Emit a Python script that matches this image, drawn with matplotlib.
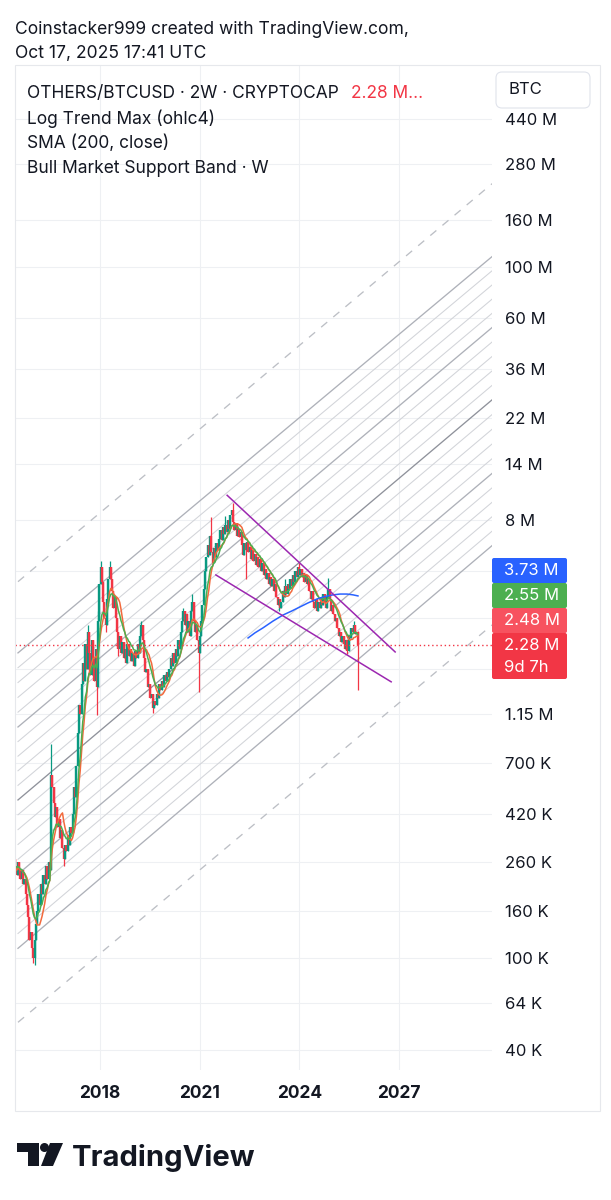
import numpy as np
import pandas as pd
import matplotlib
matplotlib.use("Agg")
import matplotlib.pyplot as plt
from matplotlib.patches import Rectangle, Circle, Polygon, FancyBboxPatch
from matplotlib.ticker import NullLocator

plt.rcParams['font.family'] = ['Inter', 'DejaVu Sans']

W, H = 611, 1200

# ---- data: OTHERS/BTC, 2W candles, prices in millions ----
first_open = 0.27
closes = [
    0.25, 0.23, 0.26, 0.24, 0.22, 0.24, 0.21, 0.22, 0.19, 0.17,
    0.15, 0.12, 0.13, 0.11, 0.10, 0.12, 0.14, 0.16, 0.19, 0.17,
    0.21, 0.19, 0.23, 0.21, 0.25, 0.22, 0.26, 0.24, 0.62, 0.55,
    0.47, 0.41, 0.45, 0.37, 0.40, 0.33, 0.36, 0.30, 0.27, 0.31,
    0.29, 0.34, 0.31, 0.37, 0.35, 0.42, 0.55, 0.50, 0.68, 0.95,
    1.25, 1.15, 1.55, 1.90, 1.60, 2.30, 1.80, 2.60, 2.10, 1.70,
    2.40, 2.00, 1.60, 2.20, 1.50, 2.90, 4.20, 5.00, 4.30, 3.50,
    3.00, 2.80, 3.60, 4.40, 5.00, 4.40, 3.90, 3.30, 3.70, 3.00,
    2.60, 2.20, 2.50, 2.10, 2.35, 2.00, 2.20, 1.90, 2.30, 2.05,
    2.20, 1.95, 2.10, 1.85, 2.15, 2.00, 2.30, 2.10, 2.50, 2.80,
    2.40, 2.00, 1.75, 1.80, 1.50, 1.55, 1.35, 1.40, 1.22, 1.30,
    1.25, 1.40, 1.35, 1.55, 1.45, 1.60, 1.50, 1.70, 1.60, 1.75,
    1.65, 1.80, 2.00, 1.85, 2.10, 1.90, 2.20, 2.05, 2.40, 2.20,
    2.60, 2.90, 3.20, 2.80, 3.10, 2.60, 2.90, 2.50, 3.20, 3.50,
    2.90, 2.60, 2.80, 2.40, 2.10, 2.50, 2.90, 3.40, 4.00, 4.80,
    5.50, 6.20, 5.60, 6.80, 5.80, 5.20, 6.00, 5.50, 6.30, 5.90,
    6.60, 7.20, 6.50, 7.40, 6.90, 7.60, 7.10, 8.00, 7.30, 8.40,
    8.80, 7.80, 7.20, 7.70, 6.80, 7.30, 6.70, 7.10, 6.20, 5.60,
    6.30, 5.90, 6.40, 5.80, 6.10, 5.40, 5.90, 5.30, 5.70, 5.10,
    5.50, 5.00, 5.40, 4.80, 5.20, 4.60, 4.90, 4.40, 4.70, 4.20,
    4.50, 4.10, 4.40, 3.90, 4.20, 3.70, 3.40, 3.60, 3.30, 3.50,
    3.90, 3.70, 4.10, 3.80, 4.20, 4.00, 4.40, 4.10, 4.60, 4.30,
    4.80, 4.50, 5.00, 4.60, 4.90, 4.50, 4.70, 4.30, 4.60, 4.20,
    4.40, 3.90, 3.60, 3.90, 3.50, 3.30, 3.60, 3.20, 3.50, 3.30,
    3.70, 3.40, 3.80, 3.50, 3.30, 3.70, 4.00, 3.60, 3.20, 3.40,
    3.10, 2.90, 3.00, 2.70, 2.50, 2.60, 2.35, 2.50, 2.30, 2.20,
    2.40, 2.15, 2.50, 2.45, 2.70, 2.60, 2.80, 2.55, 2.60, 2.28,
]
# wicks that stick out past the bodies (candle index -> price)
wick_highs = {28: 0.85, 57: 2.8, 65: 3.2, 67: 5.3, 74: 5.3, 99: 2.9, 132: 3.3,
              139: 3.8, 154: 8.2, 165: 8.3, 171: 9.4, 212: 4.4, 223: 5.2,
              246: 4.45, 266: 2.9, 269: 2.62}
wick_lows = {14: 0.095, 15: 0.093, 38: 0.25, 64: 1.13, 71: 2.6, 81: 2.05,
             108: 1.16, 144: 1.43, 181: 4.4, 207: 3.2, 261: 2.08, 269: 1.46}
last_candle = "2025-10-06"
last_price = 2.28

# SMA (200, close) - blue
sma_years = [2022.46, 2022.67, 2022.91, 2023.21, 2023.51, 2023.78, 2024.02, 2024.27,
             2024.54, 2024.78, 2025.02, 2025.23, 2025.44, 2025.62, 2025.77]
sma_values = [2.45, 2.58, 2.71, 2.90, 3.08, 3.21, 3.34, 3.48,
              3.62, 3.71, 3.77, 3.80, 3.80, 3.77, 3.73]

# purple wedge drawn by hand
wedge_upper_years = [2021.83, 2026.89]
wedge_upper_values = [10.2, 2.13]
wedge_lower_years = [2021.49, 2026.77]
wedge_lower_values = [4.60, 1.58]

# Log Trend Max channel: value of each line at the left and right edge
trend_years = [2015.53, 2029.81]
trend_solid_left = [2.11, 1.006, 0.485, 0.231, 0.110]
trend_solid_right = [111.0, 54.6, 26.5, 12.7, 6.17]
trend_dashed_left = [4.3, 0.0525]
trend_dashed_right = [230.0, 2.79]

price_ticks = [440, 280, 160, 100, 60, 36, 22, 14, 8, 4.8, 3, 1.8, 1.15,
               0.7, 0.42, 0.26, 0.16, 0.1, 0.064, 0.04]
price_labels = ["440 M", "280 M", "160 M", "100 M", "60 M", "36 M", "22 M", "14 M",
                "8 M", "", "", "", "1.15 M", "700 K", "420 K", "260 K", "160 K",
                "100 K", "64 K", "40 K"]
year_ticks = [2018, 2021, 2024, 2027]

badge_labels = ["3.73 M", "2.55 M", "2.48 M", "2.28 M"]
badge_colors = ["#2962ff", "#4caf50", "#f7525f", "#f23645"]

UP, DOWN = "#089981", "#f23645"
TEXT = "#131722"


def px(x0, y0, x1, y1):
    return [x0 / W, 1 - y1 / H, (x1 - x0) / W, (y1 - y0) / H]


def main():
    dates = pd.date_range(end=last_candle, periods=len(closes), freq="14D")
    years = np.asarray(dates.year + (dates.dayofyear - 1) / 365.25)
    close = np.array(closes)
    opens = np.concatenate([[first_open], close[:-1]])
    highs = np.maximum(opens, close)
    lows = np.minimum(opens, close)
    for k, v in wick_highs.items():
        highs[k] = max(highs[k], v)
    for k, v in wick_lows.items():
        lows[k] = min(lows[k], v)
    colors = np.where(close >= opens, UP, DOWN)

    fig = plt.figure(figsize=(W / 100, H / 100), dpi=100)
    ax = fig.add_axes(px(15, 65, 492, 1070))
    ax.set_yscale("log")
    ax.set_xlim(2015.44, 2029.807)
    ax.set_ylim(0.03259, 753.5)

    # channel
    ty = np.array(trend_years)
    sl = np.log10(trend_solid_left)
    sr = np.log10(trend_solid_right)
    for i in range(len(sl) - 1):
        for f in np.linspace(0, 1, 6)[1:-1]:
            l = sl[i] + (sl[i + 1] - sl[i]) * f
            r = sr[i] + (sr[i + 1] - sr[i]) * f
            ax.plot(ty, 10 ** np.array([l, r]), color="#d2d4d9", lw=0.75, zorder=1)
    for i in range(len(sl)):
        c = "#8f929b" if i == 2 else "#aeb1b9"
        ax.plot(ty, [trend_solid_left[i], trend_solid_right[i]], color=c, lw=0.95, zorder=1.5)
    for l, r in zip(trend_dashed_left, trend_dashed_right):
        ax.plot(ty, [l, r], color="#bcbfc5", lw=0.95, dashes=(6, 6), zorder=1.5)

    # candles
    ax.vlines(years, lows, highs, colors=colors, lw=0.9, zorder=3)
    ax.vlines(years, np.minimum(opens, close), np.maximum(opens, close),
              colors=colors, lw=1.7, zorder=3)

    # bull market support band
    s = pd.Series(close)
    ax.plot(years, s.rolling(10, min_periods=1).mean(), color="#f26a3d", lw=1.1, zorder=4)
    ax.plot(years, s.ewm(span=10.5, adjust=False).mean(), color="#4caf50", lw=1.1, zorder=4)

    ax.plot(sma_years, sma_values, color="#2962ff", lw=1.1, zorder=4)
    ax.plot(wedge_upper_years, wedge_upper_values, color="#9c27b0", lw=1.1, zorder=5)
    ax.plot(wedge_lower_years, wedge_lower_values, color="#9c27b0", lw=1.1, zorder=5)
    ax.axhline(last_price, color="#f23645", lw=1.0, ls=(0, (1, 2)), zorder=4)

    # axes styling
    for sp in ax.spines.values():
        sp.set_visible(False)
    ax.yaxis.tick_right()
    ax.set_yticks(price_ticks, labels=price_labels)
    ax.yaxis.set_minor_locator(NullLocator())
    ax.tick_params(axis="y", length=0, pad=9.5, labelsize=12, labelcolor=TEXT)
    ax.set_xticks(year_ticks, labels=[str(y) for y in year_ticks])
    ax.tick_params(axis="x", length=0, pad=10.5, labelsize=12.5, labelcolor=TEXT)
    for t in ax.get_xticklabels():
        t.set_fontweight("bold")
    ax.grid(True, color="#eef0f3", lw=0.8)
    ax.set_axisbelow(True)

    # overlay in pixel coordinates
    ov = fig.add_axes([0, 0, 1, 1], zorder=10)
    ov.set_xlim(0, W)
    ov.set_ylim(H, 0)
    ov.axis("off")

    ov.add_patch(Rectangle((15, 65), 585, 1046, fill=False, ec="#e6e8ec", lw=0.8))
    ov.text(15, 33.5, "Coinstacker999 created with TradingView.com,", fontsize=12.6,
            color=TEXT, va="baseline")
    ov.text(15, 58, "Oct 17, 2025 17:41 UTC", fontsize=12.6, color=TEXT, va="baseline")

    ov.text(27, 98.5, "OTHERS/BTCUSD · 2W · CRYPTOCAP", fontsize=12.5, color=TEXT, va="baseline")
    ov.text(351, 98.5, "2.28 M...", fontsize=12.5, color="#f23645", va="baseline")
    ov.text(27, 123.5, "Log Trend Max (ohlc4)", fontsize=12.5, color=TEXT, va="baseline")
    ov.text(27, 148, "SMA (200, close)", fontsize=12.5, color=TEXT, va="baseline")
    ov.text(27, 173, "Bull Market Support Band · W", fontsize=12.5, color=TEXT, va="baseline")

    ov.add_patch(FancyBboxPatch((496, 72), 94, 36, boxstyle="round,pad=0,rounding_size=6",
                                fc="white", ec="#e0e3eb", lw=0.8))
    ov.text(509, 90, "BTC", fontsize=12, color=TEXT, va="center")

    # last value badges
    tops = [558, 583, 608, 633]
    heights = [25, 25, 25, 46]
    for lab, col, t, h in zip(badge_labels, badge_colors, tops, heights):
        ov.add_patch(FancyBboxPatch((492, t), 75, h, boxstyle="round,pad=0,rounding_size=2",
                                    fc=col, ec="none"))
        ov.text(504, t + 12.5, lab, fontsize=12, color="white", va="center")
    ov.text(504, 667, "9d 7h", fontsize=12, color="white", va="center")

    # TradingView logo
    ov.add_patch(Polygon([(17, 1143), (39, 1143), (39, 1166), (28, 1166), (28, 1152), (17, 1152)],
                         fc=TEXT, ec="none"))
    ov.add_patch(Circle((44.5, 1147.5), 4.5, fc=TEXT, ec="none"))
    ov.add_patch(Polygon([(50, 1143), (63, 1143), (53, 1166), (41, 1166)], fc=TEXT, ec="none"))
    ov.text(72, 1166, "TradingView", fontsize=21, fontweight="bold", color=TEXT, va="baseline")

    fig.savefig("out.png", dpi=100)


if __name__ == "__main__":
    main()
